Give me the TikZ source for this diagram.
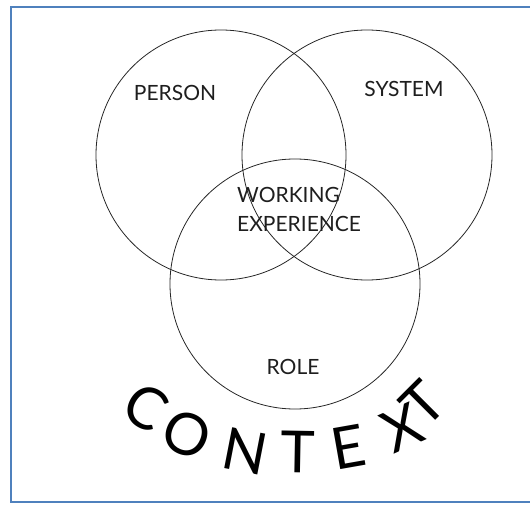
\documentclass[tikz,border=0pt]{standalone}
\usepackage{fontspec}
\setmainfont{Lato}
\definecolor{framebl}{RGB}{79,129,189}
\definecolor{ink}{RGB}{30,30,30}
\begin{document}
\begin{tikzpicture}[x=1pt,y=-1pt,
  venn/.style={draw=black!85,line width=0.8pt},
  lbl/.style={inner sep=0pt,text=ink,font=\fontsize{21}{25}\selectfont},
  ctx/.style={inner sep=0pt,text=black,font=\fontsize{58}{62}\selectfont}]
\useasboundingbox (0,0) rectangle (530,505);
% frame (right side open)
\draw[framebl,line width=2pt] (530,7) -- (11,7) -- (11,502) -- (530,502);
% circles
\node[venn,circle,minimum size=250pt,inner sep=0pt] (person) at (221,155) {};
\node[venn,circle,minimum size=250pt,inner sep=0pt] (system) at (367,155) {};
\node[venn,circle,minimum size=250pt,inner sep=0pt] (role) at (295,284) {};
% labels
\node[lbl] (lperson) at (175,93) {PERSON};
\node[lbl] (lsystem) at (404,89) {SYSTEM};
\node[lbl,anchor=west] (lwork) at (237,195) {WORKING};
\node[lbl,anchor=west] (lexp) at (237,224) {EXPERIENCE};
\node[lbl] (lrole) at (293,367) {ROLE};
% curved CONTEXT
\node[ctx,rotate=-32] (c1) at (146,407) {C};
\node[ctx,rotate=-23] (c2) at (187,434) {O};
\node[ctx,rotate=-11] (c3) at (245,451) {N};
\node[ctx,rotate=-1] (c4) at (298,452) {T};
\node[ctx,rotate=10] (c5) at (348,447) {E};
\node[ctx,rotate=24] (c6) at (402,428) {X};
\node[ctx,rotate=45] (c7) at (423,404) {T};
\end{tikzpicture}
\end{document}
